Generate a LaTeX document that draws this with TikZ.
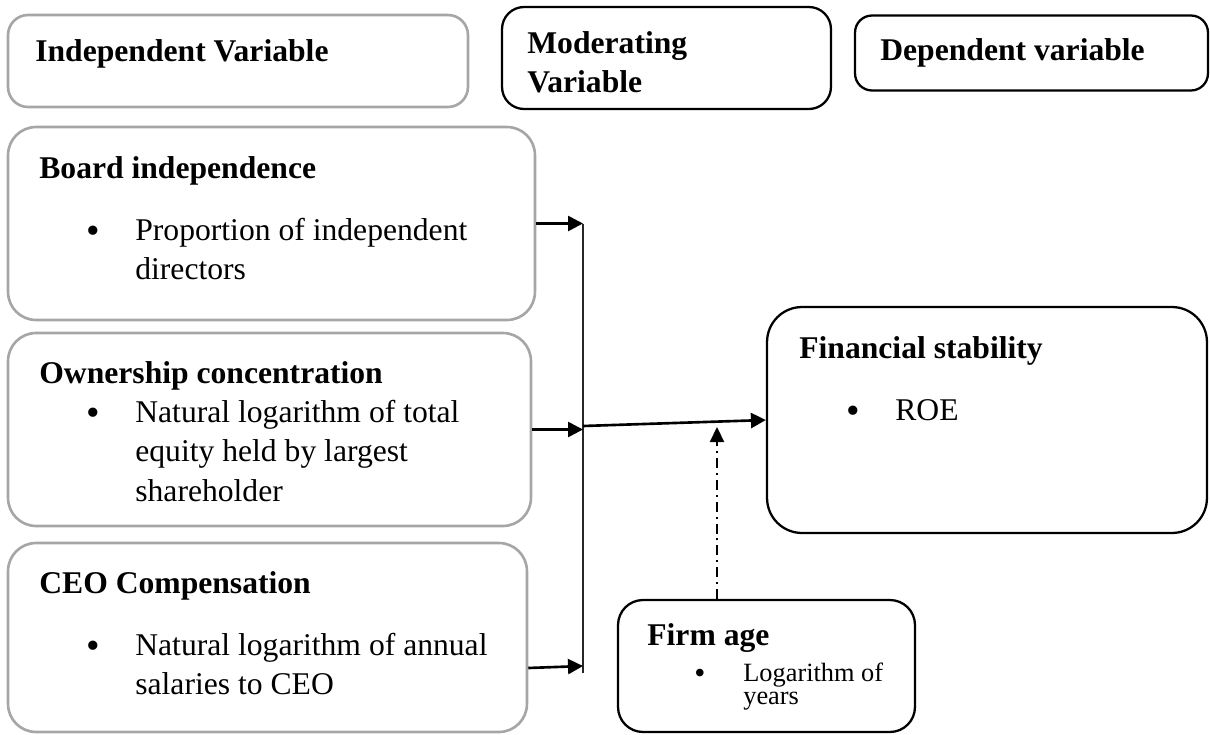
\documentclass[tikz,border=0pt]{standalone}
\usepackage{fontspec}
\setmainfont{Liberation Serif}
\usepackage{tikz}
\usetikzlibrary{arrows.meta,positioning}
\newcommand{\lines}[1]{\begin{tabular}[t]{@{}l@{}}#1\end{tabular}}

\begin{document}
\begin{tikzpicture}[
  x=0.02cm, y=-0.02cm,
  gbox/.style={draw=black!35, line width=1.5pt, rounded corners=0.56cm},
  kbox/.style={draw=black, line width=1.3pt, rounded corners=0.44cm},
  ttl/.style={anchor=base west, inner sep=0pt, font=\fontsize{18}{22.7}\selectfont\bfseries},
  txt/.style={anchor=base west, inner sep=0pt, font=\fontsize{18}{22.7}\selectfont},
  sml/.style={anchor=base west, inner sep=0pt, font=\fontsize{15}{13.6}\selectfont},
  bul/.style={anchor=base west, inner sep=0pt, yshift=-0.06cm, font=\fontsize{22}{22}\selectfont},
  arr/.style={-{Triangle[length=0.3cm, width=0.3cm]}, line width=1.5pt},
  bus/.style={line width=0.8pt, draw=black!85},
  modarr/.style={-{Triangle[length=0.3cm, width=0.28cm]}, line width=1.3pt,
    dash pattern=on 5.7pt off 2.8pt on 1.1pt off 2.8pt},
]
  \useasboundingbox (0,0) rectangle (1210,734);

  % column headers
  \node[gbox, rounded corners=0.4cm, minimum width=9.2cm, minimum height=1.84cm] (ivh) at (238,61) {};
  \node[kbox, minimum width=6.58cm, minimum height=2.04cm] (mvh) at (666.5,58) {};
  \node[kbox, rounded corners=0.34cm, minimum width=7.06cm, minimum height=1.5cm] (dvh) at (1031.5,53) {};
  \node[ttl] (ivhtxt) at (35,61) {Independent Variable};
  \node[ttl] (mvhtxt) at (527,53) {\lines{Moderating\\Variable}};
  \node[ttl] (dvhtxt) at (880,60) {Dependent variable};

  % independent variables
  \node[gbox, minimum width=10.54cm, minimum height=3.86cm] (board) at (271.5,223.5) {};
  \node[gbox, minimum width=10.46cm, minimum height=3.86cm] (owner) at (269.5,429.5) {};
  \node[gbox, minimum width=10.38cm, minimum height=3.78cm] (ceo) at (267.5,637.5) {};

  \node[ttl] (boardttl) at (39,178) {Board independence};
  \node[bul] (boardbul) at (86,240) {\textbullet};
  \node[txt] (boardtxt) at (135,240) {\lines{Proportion of independent\\directors}};

  \node[ttl] (ownerttl) at (39,383) {Ownership concentration};
  \node[bul] (ownerbul) at (86,422) {\textbullet};
  \node[txt] (ownertxt) at (135,422) {\lines{Natural logarithm of total\\equity held by largest\\shareholder}};

  \node[ttl] (ceottl) at (39,593) {CEO Compensation};
  \node[bul] (ceobul) at (86,655) {\textbullet};
  \node[txt] (ceotxt) at (135,655) {\lines{Natural logarithm of annual\\salaries to CEO}};

  % dependent variable
  \node[kbox, rounded corners=0.7cm, minimum width=8.8cm, minimum height=4.52cm] (fin) at (987,420) {};
  \node[ttl] (finttl) at (799,358) {Financial stability};
  \node[bul] (finbul) at (846,420) {\textbullet};
  \node[txt] (fintxt) at (895,420) {ROE};

  % moderating variable
  \node[kbox, rounded corners=0.5cm, minimum width=5.94cm, minimum height=2.64cm] (firm) at (766.5,666) {};
  \node[ttl] (firmttl) at (647,645) {Firm age};
  \node[bul, font=\fontsize{18}{18}\selectfont, yshift=0.02cm] (firmbul) at (694,681) {\textbullet};
  \node[sml] (firmtxt) at (743,681) {\lines{Logarithm of\\years}};

  % connectors
  \coordinate (bbus) at (583,223.5);
  \coordinate (obus) at (583,429.5);
  \coordinate (cbus) at (583,666);
  \coordinate (bend) at (583,673);
  \coordinate (mout) at (583,426);
  \coordinate (modtip) at (717,427);

  \draw[bus] (bbus) -- (bend);
  \draw[arr] (board.east) -- (bbus);
  \draw[arr] (owner.east) -- (obus);
  \draw[arr] ([yshift=-0.61cm]ceo.east) -- (cbus);
  \draw[arr] (mout) -- (fin.west);
  \draw[modarr] (firm.north -| modtip) -- (modtip);
\end{tikzpicture}
\end{document}
